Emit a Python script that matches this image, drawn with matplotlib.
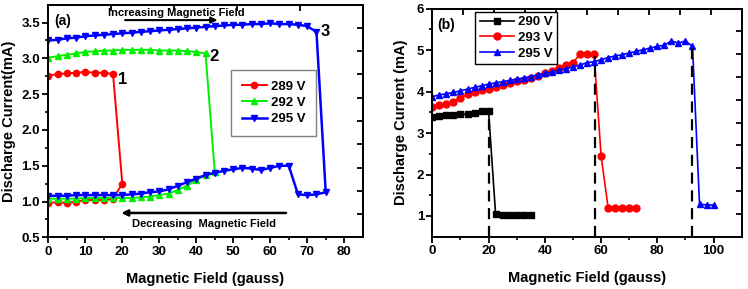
import numpy as np
import matplotlib.pyplot as plt

plt.rcParams['font.family'] = 'Liberation Sans'
plt.rcParams['font.weight'] = 'bold'
plt.rcParams['axes.labelweight'] = 'bold'
plt.rcParams['axes.linewidth'] = 1.4

# ---- panel (a) data: up sweep then down sweep ----
x289 = [0, 2.5, 5, 7.5, 10, 12.5, 15, 17.5, 20, 17.5, 15, 12.5, 10, 7.5, 5, 2.5, 0]
i289 = [2.76, 2.78, 2.79, 2.80, 2.81, 2.80, 2.80, 2.78, 1.25,
        1.04, 1.02, 1.02, 1.02, 1.00, 0.98, 0.99, 0.98]

x292_up = [0, 2.5, 5, 7.5, 10, 12.5, 15, 17.5, 20, 22.5, 25, 27.5, 30, 32.5, 35, 37.5, 40, 42.5]
i292_up = [3.01, 3.03, 3.05, 3.07, 3.09, 3.10, 3.11, 3.11, 3.12, 3.12, 3.12, 3.12,
           3.11, 3.11, 3.11, 3.10, 3.09, 3.07]
x292_dn = [45, 42.5, 40, 37.5, 35, 32.5, 30, 27.5, 25, 22.5, 20, 17.5, 15, 12.5, 10, 7.5, 5, 2.5, 0]
i292_dn = [1.41, 1.37, 1.30, 1.22, 1.16, 1.11, 1.09, 1.07, 1.06, 1.05, 1.05, 1.05,
           1.05, 1.05, 1.05, 1.04, 1.04, 1.04, 1.04]

x295_up = [0, 2.5, 5, 7.5, 10, 12.5, 15, 17.5, 20, 22.5, 25, 27.5, 30, 32.5, 35, 37.5,
           40, 42.5, 45, 47.5, 50, 52.5, 55, 57.5, 60, 62.5, 65, 67.5, 70, 72.5]
i295_up = [3.25, 3.26, 3.28, 3.29, 3.31, 3.32, 3.33, 3.34, 3.35, 3.36, 3.37, 3.38,
           3.39, 3.40, 3.41, 3.42, 3.43, 3.44, 3.45, 3.46, 3.47, 3.47, 3.48, 3.48,
           3.49, 3.48, 3.48, 3.47, 3.45, 3.37]
x295_dn = [75, 72.5, 70, 67.5, 65, 62.5, 60, 57.5, 55, 52.5, 50, 47.5, 45, 42.5, 40,
           37.5, 35, 32.5, 30, 27.5, 25, 22.5, 20, 17.5, 15, 12.5, 10, 7.5, 5, 2.5, 0]
i295_dn = [1.13, 1.10, 1.09, 1.10, 1.50, 1.50, 1.47, 1.44, 1.46, 1.47, 1.45, 1.43,
           1.40, 1.37, 1.32, 1.27, 1.22, 1.17, 1.14, 1.13, 1.11, 1.10, 1.09, 1.09,
           1.09, 1.09, 1.09, 1.09, 1.08, 1.08, 1.08]

# ---- panel (b) data ----
x290 = [0, 2.5, 5, 7.5, 10, 12.5, 15, 17.5, 20, 22.5, 25, 27.5, 30, 32.5, 35]
i290 = [3.38, 3.41, 3.43, 3.44, 3.45, 3.46, 3.48, 3.54, 3.52,
        1.04, 1.02, 1.02, 1.02, 1.03, 1.03]

x293 = [0, 2.5, 5, 7.5, 10, 12.5, 15, 17.5, 20, 22.5, 25, 27.5, 30, 32.5, 35, 37.5,
        40, 42.5, 45, 47.5, 50, 52.5, 55, 57.5, 60, 62.5, 65, 67.5, 70, 72.5]
i293 = [3.64, 3.68, 3.70, 3.76, 3.85, 3.93, 3.98, 4.04, 4.07, 4.10, 4.15, 4.20,
        4.25, 4.29, 4.33, 4.38, 4.44, 4.50, 4.58, 4.65, 4.70, 4.90, 4.90, 4.90,
        2.45, 1.20, 1.20, 1.20, 1.20, 1.20]

x295b = [0, 2.5, 5, 7.5, 10, 12.5, 15, 17.5, 20, 22.5, 25, 27.5, 30, 32.5, 35, 37.5,
         40, 42.5, 45, 47.5, 50, 52.5, 55, 57.5, 60, 62.5, 65, 67.5, 70, 72.5, 75,
         77.5, 80, 82.5, 85, 87.5, 90, 92.5, 95, 97.5, 100]
i295b = [3.88, 3.92, 3.95, 3.98, 4.02, 4.06, 4.10, 4.14, 4.18, 4.21, 4.24, 4.27,
         4.30, 4.33, 4.36, 4.40, 4.44, 4.47, 4.52, 4.55, 4.60, 4.64, 4.70, 4.72,
         4.77, 4.82, 4.86, 4.89, 4.93, 4.97, 5.01, 5.05, 5.09, 5.12, 5.22, 5.17,
         5.22, 5.09, 1.28, 1.27, 1.26]

jump_x = [20, 58, 92.5]
jump_top = [3.5, 4.85, 5.1]

fig = plt.figure(figsize=(7.48, 2.89), dpi=100)
ax1 = fig.add_axes([0.0646, 0.1789, 0.4203, 0.8048])
ax2 = fig.add_axes([0.578, 0.181, 0.4136, 0.789])

# ---- (a) ----
ax1.plot(x289, i289, color='#ff0000', marker='o', ms=4.5, lw=1.4, label='289 V')
ax1.plot(x292_up + x292_dn, i292_up + i292_dn, color='#00ee00', marker='^', ms=4.5,
         lw=1.4, label='292 V')
ax1.plot(x295_up + x295_dn, i295_up + i295_dn, color='#0000ff', marker='v', ms=5,
         lw=1.8, label='295 V')

ax1.set_xlim(0, 85)
ax1.set_ylim(0.5, 3.75)
ax1.set_xticks(np.arange(0, 81, 10))
ax1.set_xticks(np.arange(5, 85, 10), minor=True)
ax1.set_yticks(np.arange(0.5, 3.6, 0.5))
ax1.set_yticks(np.arange(0.75, 3.75, 0.5), minor=True)
ax1.set_xlabel('Magnetic Field (gauss)', fontsize=10.5, labelpad=10)
ax1.set_ylabel('Discharge Current(mA)', fontsize=10.5, labelpad=4)

ax1.text(0.02, 0.96, '(a)', transform=ax1.transAxes, fontsize=10, va='top')
ax1.text(34.7, 3.64, 'Increasing Magnetic Field', fontsize=8, ha='center', va='center')
ax1.annotate('', xy=(46.5, 3.535), xytext=(20, 3.535),
             arrowprops=dict(arrowstyle='-|>', color='black', lw=1.5, mutation_scale=9))
ax1.text(42, 0.686, 'Decreasing  Magnetic Field', fontsize=8, ha='center', va='center')
ax1.annotate('', xy=(19, 0.84), xytext=(65, 0.84),
             arrowprops=dict(arrowstyle='-|>', color='black', lw=1.8, mutation_scale=9))
ax1.text(18.9, 2.70, '1', fontsize=12, fontweight='bold', va='center')
ax1.text(43.5, 3.02, '2', fontsize=12, fontweight='bold', va='center')
ax1.text(73.5, 3.38, '3', fontsize=12, fontweight='bold', va='center')

leg1 = ax1.legend(loc='upper left', bbox_to_anchor=(0.581, 0.719), fontsize=9.5,
                  handlelength=1.9, handletextpad=0.3, labelspacing=0.3,
                  borderpad=0.8, borderaxespad=0, fancybox=False, edgecolor='gray',
                  framealpha=1)
leg1.get_frame().set_linewidth(1.0)

# ---- (b) ----
ax2.plot(x290, i290, color='black', marker='s', ms=4.5, lw=1.2, label='290 V')
ax2.plot(x293, i293, color='#ff0000', marker='o', ms=5, lw=1.2, label='293 V')
ax2.plot(x295b, i295b, color='#0000ff', marker='^', ms=5, lw=1.2, label='295 V')
ax2.vlines(jump_x, 0.5, jump_top, colors='black', linestyles=(0, (5, 3)), lw=1.6)

ax2.set_xlim(0, 110)
ax2.set_ylim(0.5, 6)
ax2.set_xticks(np.arange(0, 101, 20))
ax2.set_xticks(np.arange(10, 110, 20), minor=True)
ax2.set_yticks(np.arange(1, 7, 1))
ax2.set_yticks(np.arange(1.5, 6, 1), minor=True)
ax2.set_xlabel('Magnetic Field (gauss)', fontsize=10.5, labelpad=10)
ax2.set_ylabel('Discharge Current (mA)', fontsize=10.5, labelpad=6)
ax2.text(0.015, 0.93, '(b)', transform=ax2.transAxes, fontsize=10, va='center')

leg2 = ax2.legend(loc='upper left', bbox_to_anchor=(0.138, 0.987), fontsize=9.5,
                  handlelength=2.6, handletextpad=0.3, labelspacing=0.25,
                  borderpad=0.35, borderaxespad=0, fancybox=False, edgecolor='black',
                  framealpha=1)
leg2.get_frame().set_linewidth(1.0)

# ticks: outward on bottom/left, inward on the mirrored top/right
for ax, xr, yr, nx, ny in [(ax1, 85, (0.5, 3.75), 5, 10), (ax2, 110, (0.5, 6), 10, 10)]:
    ax.tick_params(which='major', direction='out', length=4, width=1.3,
                   labelsize=9.5, pad=2)
    ax.tick_params(which='minor', direction='out', length=2.5, width=1.2)
    top = ax.secondary_xaxis('top')
    top.set_xticks(np.linspace(0, xr, nx + 1))
    top.tick_params(direction='in', length=4, width=1.3, labeltop=False)
    right = ax.secondary_yaxis('right')
    right.set_yticks(np.linspace(yr[0], yr[1], ny + 1))
    right.tick_params(direction='in', length=4, width=1.3, labelright=False)
    for lab in ax.get_xticklabels() + ax.get_yticklabels():
        lab.set_fontweight('bold')

fig.savefig('out.png', dpi=100)
